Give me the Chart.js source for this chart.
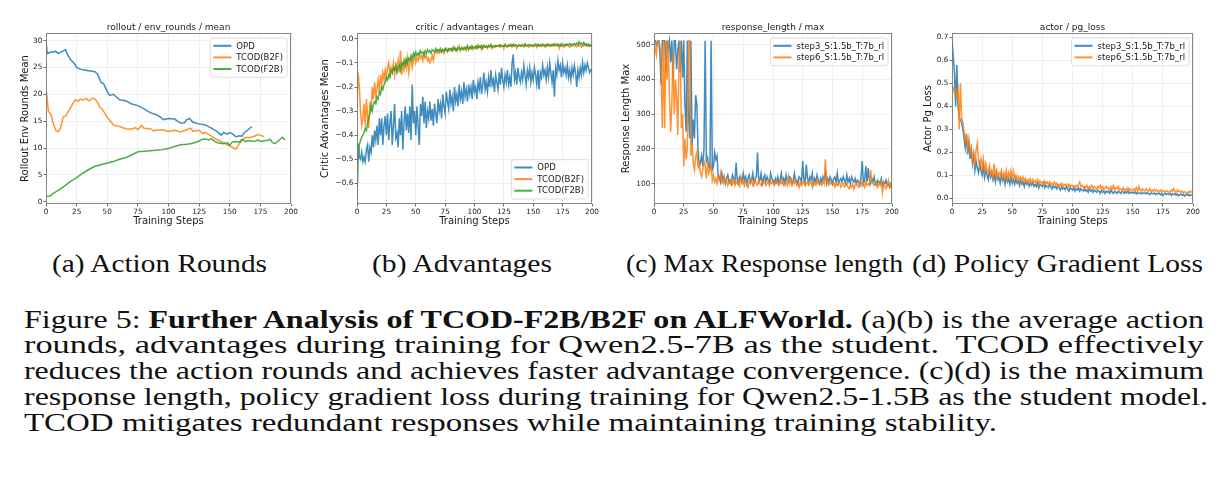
<!DOCTYPE html>
<html><head><meta charset="utf-8">
<script src="https://cdn.jsdelivr.net/npm/chart.js@4.4.0/dist/chart.umd.min.js"></script>
<style>
body{margin:0;width:1226px;height:487px;background:#fff;position:relative;overflow:hidden;font-family:"Liberation Serif",serif}
canvas{position:absolute;top:0}
.t{position:absolute;white-space:nowrap;transform-origin:0 0;font-size:25px;line-height:25px;color:#111}
</style></head><body>
<canvas id="c1" width="300" height="230" style="left:0px"></canvas>
<canvas id="c2" width="305" height="230" style="left:300px"></canvas>
<canvas id="c3" width="295" height="230" style="left:605px"></canvas>
<canvas id="c4" width="326" height="230" style="left:900px"></canvas>

<div class="t" data-w="215" style="left:52px;top:251px">(a) Action Rounds</div>
<div class="t" data-w="180" style="left:372px;top:251px">(b) Advantages</div>
<div class="t" data-w="277" style="left:626px;top:251px">(c) Max Response length</div>
<div class="t" data-w="291" style="left:912px;top:251px">(d) Policy Gradient Loss</div>
<div class="t" data-w="1180" style="left:24px;top:306.7px">Figure 5: <b>Further Analysis of TCOD-F2B/B2F on ALFWorld.</b> (a)(b) is the average action</div>
<div class="t" data-w="1180" style="left:24px;top:332.4px">rounds, advantages during training for Qwen2.5-7B as the student.&nbsp; TCOD effectively</div>
<div class="t" data-w="1180" style="left:24px;top:358.1px">reduces the action rounds and achieves faster advantage convergence. (c)(d) is the maximum</div>
<div class="t" data-w="1184" style="left:24px;top:383.8px">response length, policy gradient loss during training for Qwen2.5-1.5B as the student model.</div>
<div class="t" data-w="973" style="left:24px;top:409.5px">TCOD mitigates redundant responses while maintaining training stability.</div>

<script>
// ---------- DATA ----------
const xTicks = [0,25,50,75,100,125,150,175,200];

// (a) rollout / env_rounds / mean
const roundsLabels = ['OPD','TCOD(B2F)','TCOD(F2B)'];
const roundsTicks = [0,5,10,15,20,25,30];
const opdRoundsSteps = [0,1,3,5,8,10,13,16,18,20,22,24,25,28,30,35,40,42,45,47,50,52,55,57,60,65,70,75,80,85,90,93,96,100,105,110,113,115,117,120,125,130,135,140,143,145,148,150,153,155,158,160,162,165,168];
const opdRoundsVals  = [30,27.6,27.8,27.9,28,27.6,28,28.3,27.2,26.5,26,25.5,25,24.7,24.6,24.4,24.2,23.8,22.2,22.0,20.5,19.8,20.0,19.6,19.0,18.8,18.2,17.9,17.3,16.6,16.2,15.8,15.3,15.5,15.4,14.6,14.7,15.3,15.5,14.8,14.5,14.3,13.7,13.0,12.4,12.9,12.6,12.9,12.5,12.1,12.3,12.2,12.9,13.4,14.0];
const b2fRoundsSteps = [0,2,4,6,8,10,12,14,16,18,20,22,24,26,28,30,33,35,38,40,42,44,46,48,50,53,55,60,65,70,73,75,78,80,85,88,90,95,100,105,110,115,118,120,125,128,130,135,140,145,148,150,153,155,157,160,163,166,170,173,175,178];
const b2fRoundsVals  = [21.3,16.8,16.3,14.5,13.3,13.0,13.8,15.8,15.9,16.8,17.5,18.3,19.0,18.7,19.1,18.9,19.2,18.8,19.3,19.1,18.5,17.6,17.2,16.5,15.7,14.9,14.3,14.0,13.6,13.5,13.8,13.4,14.2,13.7,13.6,13.2,13.3,13.4,13.1,13.3,13.0,13.4,13.7,13.1,13.3,12.7,12.9,12.2,11.5,11.0,10.6,10.4,10.0,9.8,10.5,11.5,12.0,11.9,12.2,12.5,12.4,12.1];
const f2bRoundsSteps = [0,3,5,10,15,20,25,30,35,40,45,50,55,60,65,70,75,80,85,90,95,100,105,110,115,120,125,127,130,133,135,138,140,145,148,150,152,155,158,160,163,165,170,173,175,180,183,185,187,190,193,195];
const f2bRoundsVals  = [1.0,1.0,1.4,2.1,2.9,3.8,4.5,5.3,6.0,6.6,6.9,7.2,7.5,7.9,8.2,8.7,9.3,9.4,9.5,9.6,9.7,9.9,10.3,10.6,10.7,10.9,11.3,11.6,11.7,11.5,11.7,11.2,11.0,10.8,11.0,10.5,11.1,11.2,11.1,11.6,11.2,11.4,11.2,11.5,11.2,11.4,11.6,11.0,10.8,11.4,12.0,11.5];

// (b) critic / advantages / mean  (one value per step, 0..200)
const advTicks = [-0.6,-0.5,-0.4,-0.3,-0.2,-0.1,0.0];
const opdAdv = [-0.43,-0.44,-0.49,-0.50,-0.47,-0.51,-0.49,-0.51,-0.46,-0.44,
-0.51,-0.45,-0.47,-0.40,-0.45,-0.38,-0.42,-0.36,-0.44,-0.33,
-0.40,-0.33,-0.44,-0.36,-0.32,-0.40,-0.31,-0.42,-0.35,-0.30,
-0.44,-0.36,-0.27,-0.41,-0.39,-0.45,-0.33,-0.40,-0.30,-0.46,
-0.35,-0.28,-0.38,-0.31,-0.39,-0.28,-0.42,-0.19,-0.35,-0.30,
-0.40,-0.28,-0.36,-0.44,-0.27,-0.32,-0.24,-0.35,-0.26,-0.37,
-0.30,-0.33,-0.26,-0.34,-0.29,-0.36,-0.27,-0.31,-0.35,-0.25,
-0.30,-0.27,-0.33,-0.23,-0.28,-0.31,-0.22,-0.26,-0.29,-0.21,
-0.27,-0.24,-0.30,-0.20,-0.26,-0.23,-0.28,-0.19,-0.25,-0.22,
-0.27,-0.18,-0.24,-0.21,-0.26,-0.19,-0.23,-0.20,-0.25,-0.17,
-0.22,-0.20,-0.25,-0.18,-0.21,-0.16,-0.23,-0.19,-0.14,-0.21,
-0.18,-0.22,-0.16,-0.20,-0.13,-0.19,-0.17,-0.22,-0.15,-0.18,
-0.21,-0.14,-0.19,-0.12,-0.17,-0.20,-0.15,-0.18,-0.13,-0.19,
-0.16,-0.20,-0.10,-0.065,-0.17,-0.14,-0.19,-0.12,-0.16,-0.18,
-0.14,-0.17,-0.11,-0.15,-0.19,-0.13,-0.16,-0.12,-0.18,-0.14,
-0.17,-0.12,-0.15,-0.19,-0.13,-0.21,-0.14,-0.16,-0.11,-0.15,
-0.13,-0.17,-0.12,-0.16,-0.10,-0.14,-0.18,-0.13,-0.24,-0.12,
-0.15,-0.09,-0.13,-0.11,-0.16,-0.10,-0.14,-0.12,-0.15,-0.11,
-0.16,-0.13,-0.17,-0.12,-0.15,-0.11,-0.14,-0.20,-0.13,-0.16,
-0.12,-0.15,-0.10,-0.14,-0.11,-0.13,-0.10,-0.12,-0.14,-0.13,
-0.135];
const b2fAdv = [-0.29,-0.14,-0.20,-0.30,-0.36,-0.33,-0.27,-0.36,-0.25,-0.32,
-0.37,-0.26,-0.30,-0.20,-0.25,-0.18,-0.24,-0.21,-0.17,-0.22,
-0.15,-0.19,-0.14,-0.17,-0.13,-0.16,-0.12,-0.10,-0.15,-0.12,
-0.14,-0.10,-0.15,-0.11,-0.13,-0.09,-0.14,-0.05,-0.15,-0.11,
-0.13,-0.09,-0.12,-0.08,-0.14,-0.10,-0.08,-0.12,-0.09,-0.07,
-0.10,-0.08,-0.09,-0.06,-0.08,-0.07,-0.09,-0.06,-0.08,-0.07,
-0.09,-0.08,-0.10,-0.09,-0.07,-0.09,-0.06,-0.05,-0.06,-0.05,
-0.06,-0.05,-0.055,-0.045,-0.06,-0.05,-0.04,-0.055,-0.045,-0.05,
-0.04,-0.05,-0.045,-0.035,-0.05,-0.04,-0.045,-0.03,-0.05,-0.04,
-0.045,-0.035,-0.04,-0.05,-0.03,-0.045,-0.04,-0.03,-0.045,-0.035,
-0.035,-0.03,-0.04,-0.025,-0.035,-0.03,-0.045,-0.03,-0.025,-0.035,
-0.03,-0.04,-0.028,-0.035,-0.025,-0.04,-0.03,-0.035,-0.028,-0.032,
-0.03,-0.025,-0.035,-0.03,-0.028,-0.04,-0.022,-0.03,-0.035,-0.025,
-0.03,-0.022,-0.035,-0.028,-0.03,-0.025,-0.04,-0.03,-0.028,-0.032,
-0.025,-0.03,-0.035,-0.022,-0.03,-0.028,-0.035,-0.025,-0.03,-0.033,
-0.028,-0.03,-0.025,-0.035,-0.022,-0.03,-0.028,-0.033,-0.025,-0.03,
-0.035,-0.025,-0.03,-0.022,-0.028,-0.032,-0.025,-0.03,-0.02,-0.028,
-0.03,-0.022,-0.04,-0.025,-0.03,-0.028,-0.035,-0.025,-0.03,-0.022,
-0.03,-0.035,-0.025,-0.03,-0.028,-0.022,-0.03,-0.033,-0.025,-0.03,
-0.028,-0.035,-0.025,-0.03,-0.022,-0.03,-0.028,-0.032,-0.025,-0.03,
-0.03];
const f2bAdv = [-0.66,-0.50,-0.44,-0.42,-0.41,-0.40,-0.39,-0.37,-0.38,-0.35,
-0.33,-0.31,-0.28,-0.30,-0.27,-0.26,-0.27,-0.24,-0.25,-0.22,
-0.23,-0.20,-0.21,-0.19,-0.18,-0.16,-0.17,-0.15,-0.16,-0.13,
-0.14,-0.12,-0.13,-0.11,-0.14,-0.12,-0.11,-0.13,-0.10,-0.11,
-0.09,-0.11,-0.085,-0.10,-0.08,-0.09,-0.07,-0.085,-0.06,-0.075,
-0.055,-0.07,-0.06,-0.065,-0.05,-0.06,-0.055,-0.07,-0.05,-0.06,
-0.045,-0.055,-0.05,-0.06,-0.045,-0.05,-0.055,-0.04,-0.05,-0.045,
-0.05,-0.04,-0.055,-0.045,-0.05,-0.04,-0.045,-0.05,-0.04,-0.045,
-0.04,-0.05,-0.035,-0.045,-0.04,-0.05,-0.035,-0.04,-0.045,-0.035,
-0.04,-0.045,-0.035,-0.04,-0.03,-0.045,-0.035,-0.04,-0.03,-0.04,
-0.035,-0.04,-0.03,-0.038,-0.03,-0.035,-0.028,-0.04,-0.03,-0.035,
-0.03,-0.035,-0.028,-0.032,-0.025,-0.035,-0.03,-0.028,-0.033,-0.03,
-0.028,-0.032,-0.025,-0.03,-0.028,-0.03,-0.025,-0.032,-0.028,-0.03,
-0.025,-0.03,-0.028,-0.022,-0.03,-0.025,-0.028,-0.03,-0.025,-0.028,
-0.03,-0.025,-0.028,-0.022,-0.03,-0.026,-0.024,-0.03,-0.025,-0.028,
-0.025,-0.03,-0.022,-0.028,-0.025,-0.03,-0.024,-0.027,-0.022,-0.028,
-0.025,-0.03,-0.022,-0.026,-0.03,-0.024,-0.027,-0.022,-0.028,-0.025,
-0.022,-0.028,-0.025,-0.03,-0.02,-0.026,-0.024,-0.028,-0.022,-0.026,
-0.024,-0.02,-0.028,-0.022,-0.026,-0.02,-0.025,-0.018,-0.024,-0.012,
-0.022,-0.018,-0.025,-0.015,-0.024,-0.02,-0.028,-0.022,-0.03,-0.025,
-0.028];

// (c) response_length / max and (d) actor / pg_loss (one value per step, 0..200)
const runLabels = ['step3_S:1.5b_T:7b_rl','step6_S:1.5b_T:7b_rl'];
const respTicks = [100,200,300,400,500];
const step3Resp = [512,512,500,512,512,470,385,512,512,512,
420,512,490,512,450,512,400,512,512,430,
480,512,420,512,405,512,330,250,512,300,
230,512,210,285,230,355,330,200,150,160,
180,150,200,512,165,175,150,145,512,140,
150,190,170,180,115,120,105,130,110,120,
100,115,125,105,110,100,125,115,105,160,
110,100,120,115,105,130,110,120,100,115,
125,105,110,130,100,115,120,190,105,110,
130,100,115,125,105,120,110,100,130,115,
110,100,115,105,120,100,110,130,105,115,
100,125,110,105,120,115,100,110,130,105,
110,100,120,115,105,165,110,100,155,115,
105,120,110,130,100,115,105,125,110,100,
115,105,120,110,130,100,115,105,120,110,
100,115,120,105,130,100,110,115,105,120,
110,100,125,105,115,100,120,110,105,115,
100,110,105,95,120,165,100,110,150,105,
145,110,100,115,105,120,100,95,110,105,
100,115,95,105,100,110,95,100,90,100,
85];
const step6Resp = [512,490,470,512,512,500,430,260,512,260,
512,400,512,350,250,330,480,300,400,350,
240,450,512,260,300,150,230,170,200,512,
512,180,215,160,140,175,190,150,160,130,
120,140,165,150,115,160,130,140,155,110,
125,105,115,100,120,110,130,105,100,120,
100,110,95,105,100,115,100,110,95,105,
100,110,95,120,100,105,95,110,100,90,
105,100,110,95,100,115,100,95,110,100,
95,105,100,110,95,100,105,95,110,100,
105,95,100,110,100,95,105,100,110,95,
100,105,95,120,100,110,95,105,100,115,
95,100,90,105,95,100,110,95,100,105,
95,100,110,90,105,100,95,110,100,105,
100,95,110,100,170,115,100,95,105,100,
95,105,90,100,95,100,105,90,95,100,
90,95,100,90,85,95,90,100,85,95,
100,95,90,105,110,95,100,90,105,95,
100,95,140,110,100,95,100,105,90,100,
95,105,75,100,90,85,95,110,90,100,
95];
const lossTicks = [0.0,0.1,0.2,0.3,0.4,0.5,0.6,0.7];
const step3Loss = [0.69,0.62,0.55,0.40,0.58,0.40,0.35,0.34,0.33,0.30,
0.26,0.22,0.28,0.19,0.25,0.17,0.21,0.15,0.19,0.12,
0.16,0.13,0.11,0.15,0.12,0.10,0.14,0.09,0.12,0.10,
0.08,0.12,0.09,0.11,0.08,0.10,0.07,0.11,0.08,0.09,
0.065,0.10,0.075,0.09,0.06,0.095,0.07,0.085,0.06,0.09,
0.065,0.08,0.06,0.085,0.065,0.075,0.055,0.08,0.06,0.07,
0.05,0.075,0.06,0.07,0.05,0.065,0.055,0.07,0.05,0.06,
0.05,0.065,0.045,0.06,0.055,0.05,0.065,0.045,0.055,0.05,
0.045,0.06,0.05,0.04,0.055,0.045,0.05,0.04,0.055,0.045,
0.035,0.05,0.04,0.045,0.035,0.05,0.04,0.03,0.045,0.04,
0.035,0.045,0.03,0.04,0.035,0.045,0.03,0.04,0.035,0.03,
0.04,0.03,0.035,0.025,0.04,0.03,0.035,0.025,0.035,0.03,
0.025,0.035,0.03,0.02,0.035,0.025,0.03,0.02,0.03,0.025,
0.03,0.02,0.035,0.025,0.02,0.03,0.025,0.02,0.03,0.025,
0.02,0.03,0.025,0.02,0.028,0.022,0.03,0.02,0.025,0.022,
0.025,0.02,0.028,0.018,0.025,0.02,0.022,0.018,0.025,0.02,
0.022,0.018,0.025,0.02,0.015,0.022,0.02,0.018,0.022,0.015,
0.02,0.018,0.022,0.015,0.02,0.01,0.018,0.02,0.015,0.018,
0.015,0.02,0.012,0.018,0.015,0.02,0.012,0.018,0.01,0.015,
0.018,0.012,0.015,0.008,0.015,0.012,0.018,0.01,0.015,0.012,
0.01];
const step6Loss = [0.49,0.48,0.46,0.47,0.44,0.47,0.30,0.50,0.35,0.33,
0.29,0.25,0.27,0.22,0.26,0.20,0.22,0.16,0.19,0.15,
0.21,0.24,0.16,0.14,0.17,0.13,0.17,0.12,0.15,0.12,
0.11,0.14,0.10,0.12,0.09,0.15,0.10,0.12,0.09,0.11,
0.10,0.12,0.085,0.11,0.09,0.12,0.08,0.11,0.09,0.12,
0.08,0.115,0.09,0.10,0.075,0.095,0.08,0.09,0.07,0.09,
0.075,0.085,0.065,0.08,0.07,0.085,0.065,0.08,0.07,0.075,
0.065,0.08,0.06,0.075,0.065,0.07,0.06,0.075,0.06,0.07,
0.06,0.07,0.055,0.065,0.06,0.07,0.055,0.065,0.05,0.06,
0.055,0.065,0.05,0.06,0.055,0.06,0.045,0.06,0.05,0.055,
0.05,0.055,0.045,0.055,0.05,0.06,0.07,0.05,0.055,0.045,
0.05,0.045,0.055,0.04,0.05,0.045,0.055,0.04,0.05,0.045,
0.04,0.05,0.045,0.055,0.04,0.05,0.035,0.045,0.05,0.04,
0.045,0.035,0.05,0.04,0.055,0.035,0.045,0.04,0.05,0.035,
0.04,0.035,0.045,0.03,0.04,0.035,0.045,0.03,0.04,0.035,
0.03,0.04,0.035,0.045,0.03,0.05,0.035,0.03,0.04,0.035,
0.03,0.04,0.035,0.03,0.04,0.028,0.035,0.03,0.038,0.03,
0.035,0.028,0.03,0.035,0.025,0.032,0.03,0.025,0.032,0.028,
0.025,0.03,0.035,0.028,0.04,0.03,0.025,0.035,0.028,0.03,
0.025,0.03,0.022,0.028,0.025,0.02,0.028,0.025,0.03,0.025,
0.028];

// ---------- STYLE / BUILD ----------
const C_BLUE='rgba(31,119,180,0.85)', C_ORANGE='rgba(255,127,14,0.85)', C_GREEN='rgba(44,160,44,0.85)';
const FONT='"DejaVu Sans", sans-serif';
const pts = (xs, ys) => xs.map((x,i)=>({x, y: ys[i]}));
const perStep = ys => ys.map((y,i)=>({x:i, y}));

const decor = {
  id:'decor',
  afterDraw(chart, args, o){
    const {ctx, chartArea:a} = chart;
    ctx.save();
    ctx.strokeStyle='#7a7a7a'; ctx.lineWidth=0.9;
    ctx.strokeRect(a.left+0.5, a.top+0.5, a.right-a.left-1, a.bottom-a.top-1);
    ctx.fillStyle='#1a1a1a'; ctx.textAlign='center';
    ctx.font='9px '+FONT; ctx.textBaseline='alphabetic';
    ctx.fillText(o.title, (a.left+a.right)/2, a.top-3.5);
    ctx.font='10px '+FONT; ctx.textBaseline='middle';
    ctx.fillText('Training Steps', (a.left+a.right)/2, 221);
    ctx.save();
    ctx.translate(a.left - o.yLabelOff, (a.top+a.bottom)/2); ctx.rotate(-Math.PI/2);
    ctx.fillText(o.yLabel, 0, 0);
    ctx.restore();
    // legend
    const items=o.legend, rowH=11.6, pad=3.5, lineLen=18, gap=5;
    ctx.font='8.5px '+FONT;
    let tw=0; items.forEach(it=>tw=Math.max(tw, ctx.measureText(it.label).width));
    const w=pad+lineLen+gap+tw+pad, h=items.length*rowH+4.5;
    const right=a.right-4.5;
    const top = o.corner==='br' ? a.bottom-5.5-h : a.top+4.5;
    const left=right-w;
    ctx.beginPath(); ctx.roundRect(left+0.5, top+0.5, w, h, 2.5);
    ctx.fillStyle='rgba(255,255,255,0.85)'; ctx.fill();
    ctx.strokeStyle='#d6d6d6'; ctx.lineWidth=0.8; ctx.stroke();
    items.forEach((it,i)=>{
      const cy=top+2.5+rowH*(i+0.5);
      ctx.strokeStyle=it.color; ctx.lineWidth=2;
      ctx.beginPath(); ctx.moveTo(left+pad, cy); ctx.lineTo(left+pad+lineLen, cy); ctx.stroke();
      ctx.fillStyle='#1a1a1a'; ctx.textAlign='left'; ctx.textBaseline='middle';
      ctx.fillText(it.label, left+pad+lineLen+gap, cy+0.5);
    });
    ctx.restore();
  }
};

function makeChart(id, datasets, yMin, yMax, yTickVals, fmt, yW, rightPad, deco){
  return new Chart(document.getElementById(id), {
    type:'line',
    data:{datasets},
    options:{
      responsive:false, animation:false, devicePixelRatio:1,
      layout:{padding:{top:33,right:rightPad,left:0,bottom:0}},
      elements:{point:{radius:0}, line:{borderWidth:1.5, tension:0}},
      plugins:{legend:{display:false}, title:{display:false}, tooltip:{enabled:false}, decor:deco},
      scales:{
        x:{type:'linear', min:0, max:200,
           afterBuildTicks:s=>{s.ticks=xTicks.map(v=>({value:v}));},
           afterFit:s=>{s.height=26;},
           grid:{color:'#ebebeb', lineWidth:0.8, tickLength:2.5, tickColor:'#444'},
           border:{display:false},
           ticks:{font:{family:FONT,size:7.3}, color:'#222', padding:1, maxRotation:0, autoSkip:false}},
        y:{type:'linear', min:yMin, max:yMax,
           afterBuildTicks:s=>{s.ticks=yTickVals.map(v=>({value:v}));},
           afterFit:s=>{s.width=yW;},
           grid:{color:'#ebebeb', lineWidth:0.8, tickLength:2.5, tickColor:'#444'},
           border:{display:false},
           ticks:{font:{family:FONT,size:7.3}, color:'#222', padding:1.2, autoSkip:false, callback:v=>fmt(v)}}
      }
    },
    plugins:[decor]
  });
}
const ds = (label, data, color, order) => ({label, data, borderColor:color, order, fill:false});
const f1 = v => (v<0?'\u2212':'') + Math.abs(v).toFixed(1);
const fInt = v => String(Math.round(v));

makeChart('c1', [
  ds(roundsLabels[0], pts(opdRoundsSteps, opdRoundsVals), C_BLUE, 3),
  ds(roundsLabels[1], pts(b2fRoundsSteps, b2fRoundsVals), C_ORANGE, 2),
  ds(roundsLabels[2], pts(f2bRoundsSteps, f2bRoundsVals), C_GREEN, 1)
], -0.43, 31.43, roundsTicks, fInt, 46, 9,
{title:'rollout / env_rounds / mean', yLabel:'Rollout Env Rounds Mean', yLabelOff:21, corner:'tr',
 legend:[{label:roundsLabels[0],color:C_BLUE},{label:roundsLabels[1],color:C_ORANGE},{label:roundsLabels[2],color:C_GREEN}]});

makeChart('c2', [
  ds(roundsLabels[0], perStep(opdAdv), C_BLUE, 3),
  ds(roundsLabels[1], perStep(b2fAdv), C_ORANGE, 2),
  ds(roundsLabels[2], perStep(f2bAdv), C_GREEN, 1)
], -0.685, 0.024, advTicks, f1, 57, 13,
{title:'critic / advantages / mean', yLabel:'Critic Advantages Mean', yLabelOff:31.3, corner:'br',
 legend:[{label:roundsLabels[0],color:C_BLUE},{label:roundsLabels[1],color:C_ORANGE},{label:roundsLabels[2],color:C_GREEN}]});

makeChart('c3', [
  ds(runLabels[0], perStep(step3Resp), C_BLUE, 2),
  ds(runLabels[1], perStep(step6Resp), C_ORANGE, 1)
], 41.5, 534, respTicks, fInt, 49, 8,
{title:'response_length / max', yLabel:'Response Length Max', yLabelOff:28, corner:'tr',
 legend:[{label:runLabels[0],color:C_BLUE},{label:runLabels[1],color:C_ORANGE}]});

makeChart('c4', [
  ds(runLabels[0], perStep(step3Loss), C_BLUE, 2),
  ds(runLabels[1], perStep(step6Loss), C_ORANGE, 1)
], -0.026, 0.719, lossTicks, f1, 52, 33,
{title:'actor / pg_loss', yLabel:'Actor Pg Loss', yLabelOff:24, corner:'tr',
 legend:[{label:runLabels[0],color:C_BLUE},{label:runLabels[1],color:C_ORANGE}]});

// fit caption lines to their measured widths
document.querySelectorAll('.t').forEach(el=>{
  const w = el.getBoundingClientRect().width;
  el.style.transform = 'scaleX(' + (parseFloat(el.dataset.w)/w) + ')';
});
</script>
</body></html>
